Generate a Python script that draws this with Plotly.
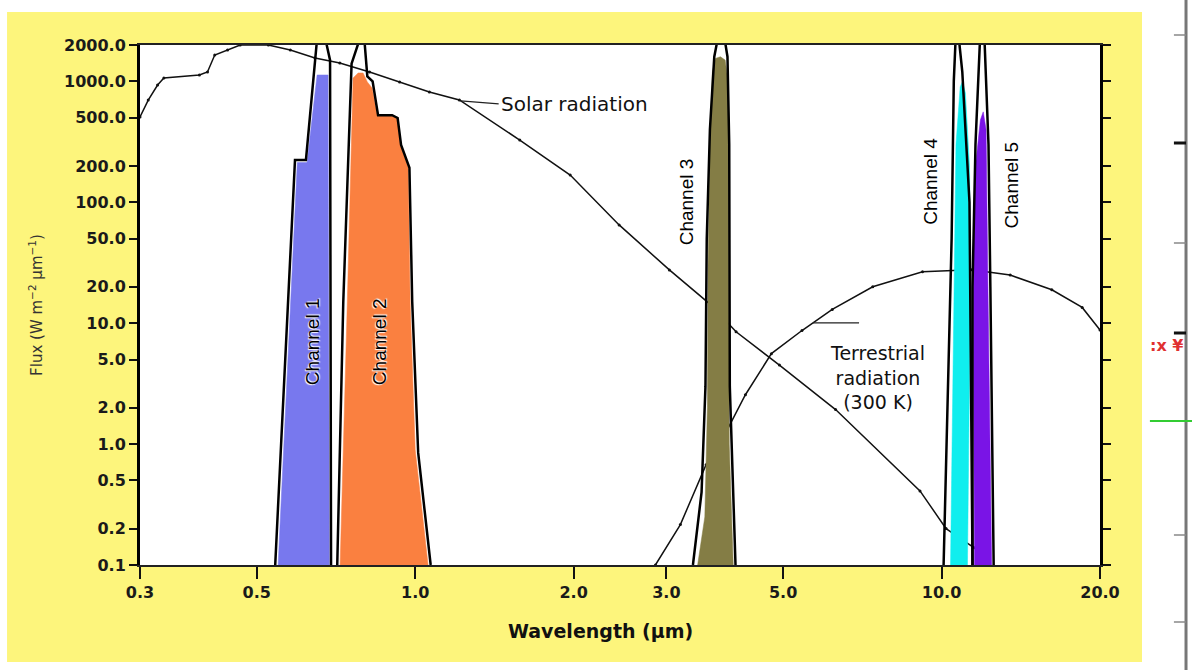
import numpy as np
import plotly.graph_objects as go

# ---------------- data ----------------
solar_wl = [0.300, 0.311, 0.324, 0.333, 0.389, 0.403, 0.416, 0.440, 0.465, 0.526, 0.579,
            0.645, 0.719, 0.819, 0.934, 1.064, 1.213, 1.58, 1.97, 2.44, 3.04, 3.65, 4.07,
            4.92, 6.29, 9.10, 10.2, 11.5, 12.0]
solar_flux = [508, 701, 934, 1068, 1130, 1196, 1653, 1818, 2000, 2000, 1818,
              1562, 1420, 1196, 989, 818, 702, 327, 168, 65, 27.6, 14.1, 8.5,
              4.5, 1.93, 0.41, 0.20, 0.14, 0.12]

terr_wl = [2.86, 3.19, 3.57, 3.83, 4.24, 4.75, 5.43, 6.2, 7.4, 9.2, 11.4, 13.5, 16.2, 18.5, 20.0]
terr_flux = [0.1, 0.216, 0.676, 1.09, 2.56, 5.6, 8.7, 13.0, 20.0, 26.6, 27.7, 25.0, 18.9, 13.5, 8.8]

ch1_fill_wl = [0.549, 0.597, 0.623, 0.651, 0.683, 0.687]
ch1_fill_flux = [0.1, 213, 213, 1130, 1130, 0.1]
ch1_line_wl = [0.542, 0.591, 0.620, 0.653, 0.670, 0.689, 0.692]
ch1_line_flux = [0.1, 224, 224, 2600, 2600, 1500, 0.1]

ch2_fill_wl = [0.720, 0.735, 0.743, 0.762, 0.779, 0.796, 0.811, 0.828, 0.847, 0.904,
               0.924, 0.937, 0.970, 0.978, 1.000, 1.058]
ch2_fill_flux = [0.1, 2, 15, 1067, 1174, 1174, 989, 882, 526, 526, 498, 298, 193, 15, 0.9, 0.1]
ch2_line_wl = [0.711, 0.722, 0.730, 0.757, 0.786, 0.800, 0.811, 0.830, 0.850, 0.904,
               0.926, 0.940, 0.975, 0.987, 1.013, 1.070]
ch2_line_flux = [0.1, 2, 15, 1400, 2300, 2300, 1100, 1000, 526, 526, 498, 298, 193, 15, 0.85, 0.1]

ch3_fill_wl = [3.44, 3.55, 3.59, 3.60, 3.63, 3.67, 3.72, 3.80, 3.88, 3.93, 3.94, 3.95, 4.02]
ch3_fill_flux = [0.1, 0.25, 2, 30, 300, 1200, 1550, 1600, 1500, 1000, 100, 1, 0.1]
ch3_line_wl = [3.37, 3.50, 3.56, 3.58, 3.63, 3.70, 3.78, 3.85, 3.92, 3.95, 3.96, 4.06]
ch3_line_flux = [0.1, 0.4, 3, 50, 400, 1600, 2600, 2600, 1600, 300, 3, 0.1]

ch4_fill_wl = [10.40, 10.50, 10.55, 10.65, 10.85, 10.96, 11.10, 11.30, 11.35, 11.25, 11.20]
ch4_fill_flux = [0.1, 2, 20, 300, 900, 1000, 800, 200, 20, 1, 0.1]
ch4_line_wl = [10.09, 10.25, 10.45, 10.55, 10.65, 10.75, 10.95, 11.30, 11.40, 11.45]
ch4_line_flux = [0.1, 2, 50, 1000, 2600, 2600, 1200, 100, 2, 0.1]

ch5_fill_wl = [11.55, 11.48, 11.60, 11.85, 12.00, 12.15, 12.25, 12.45]
ch5_fill_flux = [0.1, 20, 200, 480, 560, 400, 20, 0.1]
ch5_line_wl = [11.45, 11.45, 11.60, 11.85, 12.05, 12.28, 12.38, 12.56]
ch5_line_flux = [0.1, 20, 300, 2600, 2600, 300, 20, 0.1]

channels = [
    ("Channel 1", ch1_fill_wl, ch1_fill_flux, ch1_line_wl, ch1_line_flux, "#7878ee"),
    ("Channel 2", ch2_fill_wl, ch2_fill_flux, ch2_line_wl, ch2_line_flux, "#fa8040"),
    ("Channel 3", ch3_fill_wl, ch3_fill_flux, ch3_line_wl, ch3_line_flux, "#847d45"),
    ("Channel 4", ch4_fill_wl, ch4_fill_flux, ch4_line_wl, ch4_line_flux, "#10eeee"),
    ("Channel 5", ch5_fill_wl, ch5_fill_flux, ch5_line_wl, ch5_line_flux, "#7a14e6"),
]
# label positions (wavelength, flux) for the rotated channel names
label_wl = [0.640, 0.858, 3.27, 9.5, 13.6]
label_flux = [7.0, 7.0, 100, 150, 140]

x_ticks = [0.3, 0.5, 1, 2, 3, 5, 10, 20]
x_ticktext = ["0.3", "0.5", "1.0", "2.0", "3.0", "5.0", "10.0", "20.0"]
y_ticks = [0.1, 0.2, 0.5, 1, 2, 5, 10, 20, 50, 100, 200, 500, 1000, 2000]
y_ticktext = ["0.1", "0.2", "0.5", "1.0", "2.0", "5.0", "10.0", "20.0", "50.0",
              "100.0", "200.0", "500.0", "1000.0", "2000.0"]

YELLOW = "#fdf57c"

fig = go.Figure()

# radiation curves (under the channel fills)
fig.add_trace(go.Scatter(x=solar_wl, y=solar_flux, mode="lines+markers",
                         line=dict(color="#111", width=1.5), marker=dict(size=3, color="#111"),
                         hoverinfo="skip"))
fig.add_trace(go.Scatter(x=terr_wl, y=terr_flux, mode="lines+markers",
                         line=dict(color="#111", width=1.5), marker=dict(size=3, color="#111"),
                         hoverinfo="skip"))

for name, fw, ff, lw, lf, col in channels:
    fig.add_trace(go.Scatter(x=fw, y=ff, mode="lines", fill="toself", fillcolor=col,
                             line=dict(color=col, width=0.5), hoverinfo="skip"))
for name, fw, ff, lw, lf, col in channels:
    fig.add_trace(go.Scatter(x=lw, y=lf, mode="lines", line=dict(color="black", width=2.5),
                             hoverinfo="skip"))

annotations = []
for i, (name, *_rest) in enumerate(channels):
    annotations.append(dict(
        x=np.log10(label_wl[i]), y=np.log10(label_flux[i]), xref="x", yref="y",
        text=name, showarrow=False, textangle=-90,
        font=dict(family="Liberation Sans, Arial, sans-serif", size=19, color="black",
                  shadow="1px 1px 1px white, -1px -1px 1px white" if i < 2 else "none"),
    ))

# Solar radiation label with leader
solar_tip_wl = 1.22
solar_tip_flux = 10 ** np.interp(np.log10(solar_tip_wl), np.log10(solar_wl), np.log10(solar_flux))
annotations.append(dict(
    x=np.log10(solar_tip_wl), y=np.log10(solar_tip_flux), xref="x", yref="y",
    text="Solar radiation", showarrow=True, arrowhead=0, arrowwidth=1.3, arrowcolor="#222",
    ax=38, ay=3, xanchor="left", standoff=0,
    font=dict(family="DejaVu Sans", size=20, color="#111"),
))
# Terrestrial label
annotations.append(dict(
    x=np.log10(7.56), y=np.log10(3.54), xref="x", yref="y",
    text="Terrestrial<br>radiation<br>(300 K)", showarrow=False, align="center",
    font=dict(family="DejaVu Sans", size=19, color="#111"),
))
# x axis title
annotations.append(dict(
    x=(600 - 140) / 960, y=(565 - 631) / 520, xref="paper", yref="paper",
    text="Wavelength (µm)", showarrow=False, yanchor="middle",
    font=dict(family="DejaVu Sans", size=19, color="#111", weight="bold"),
))
# screenshot ruler artefact at right edge
annotations.append(dict(
    x=1.050, y=0.423, xref="paper", yref="paper", text=":x ¥", showarrow=False,
    xanchor="left", font=dict(family="DejaVu Sans", size=16, color="#e03030", weight="bold"),
))

shapes = []
# leader for terrestrial label (anchored on the curve, offset in pixels)
terr_tip_wl = 5.70
terr_tip_flux = 10 ** np.interp(np.log10(terr_tip_wl), np.log10(terr_wl), np.log10(terr_flux))
shapes.append(dict(type="line", xref="x", yref="y", xsizemode="pixel", ysizemode="pixel",
                   xanchor=terr_tip_wl, yanchor=terr_tip_flux, x0=0, x1=46, y0=0, y1=-8,
                   line=dict(color="#222", width=1.3)))
# white border around the yellow card
for (x0, x1, y0, y1) in [(-0.3, 1.2, 1.0635, 1.3), (-0.3, -0.1385, -0.3, 1.3),
                         (1.04375, 1.3, -0.3, 1.3), (-0.3, 1.3, -0.3, -0.1865)]:
    shapes.append(dict(type="rect", xref="paper", yref="paper", x0=x0, x1=x1, y0=y0, y1=y1,
                       fillcolor="white", line=dict(width=0), layer="below"))
shapes.append(dict(type="line", xref="paper", yref="paper", x0=1.0896, x1=1.0896, y0=-0.3, y1=1.3,
                   line=dict(color="#777", width=3)))
for py, thick in [(35, False), (143, True), (243, False), (333, True), (535, False), (622, False)]:
    yp = (565 - py) / 520
    shapes.append(dict(type="line", xref="paper", yref="paper", x0=1.077, x1=1.0896, y0=yp, y1=yp,
                       line=dict(color="#111" if thick else "#888", width=3 if thick else 1.5)))
shapes.append(dict(type="line", xref="paper", yref="paper", x0=1.052, x1=1.096,
                   y0=(565 - 421) / 520, y1=(565 - 421) / 520, line=dict(color="#33cc33", width=2)))

tickfont = dict(family="DejaVu Sans", size=16, color="#1a1a1a", weight="bold")

fig.update_layout(
    width=1192, height=670, autosize=False,
    margin=dict(l=140, r=92, t=45, b=105, pad=0),
    paper_bgcolor=YELLOW, plot_bgcolor="white",
    showlegend=False,
    annotations=annotations, shapes=shapes,
    xaxis=dict(type="log", range=[np.log10(0.3), np.log10(20)], tickvals=x_ticks,
               ticktext=x_ticktext, ticks="outside", ticklen=12, tickwidth=2, tickcolor="#111",
               showline=True, linecolor="#222", linewidth=2, mirror=True,
               showgrid=False, zeroline=False, tickfont=tickfont),
    yaxis=dict(type="log", range=[np.log10(0.1), np.log10(2000)], tickvals=y_ticks,
               ticktext=y_ticktext, ticks="outside", ticklen=8, tickwidth=2, tickcolor="#111",
               showline=True, linecolor="black", linewidth=3, mirror="ticks",
               showgrid=False, zeroline=False, tickfont=tickfont,
               title=dict(text="Flux (W m<sup>−2</sup> µm<sup>−1</sup>)", standoff=18,
                          font=dict(family="DejaVu Sans", size=15, color="#333"))),
)

fig.write_html("out.html")
